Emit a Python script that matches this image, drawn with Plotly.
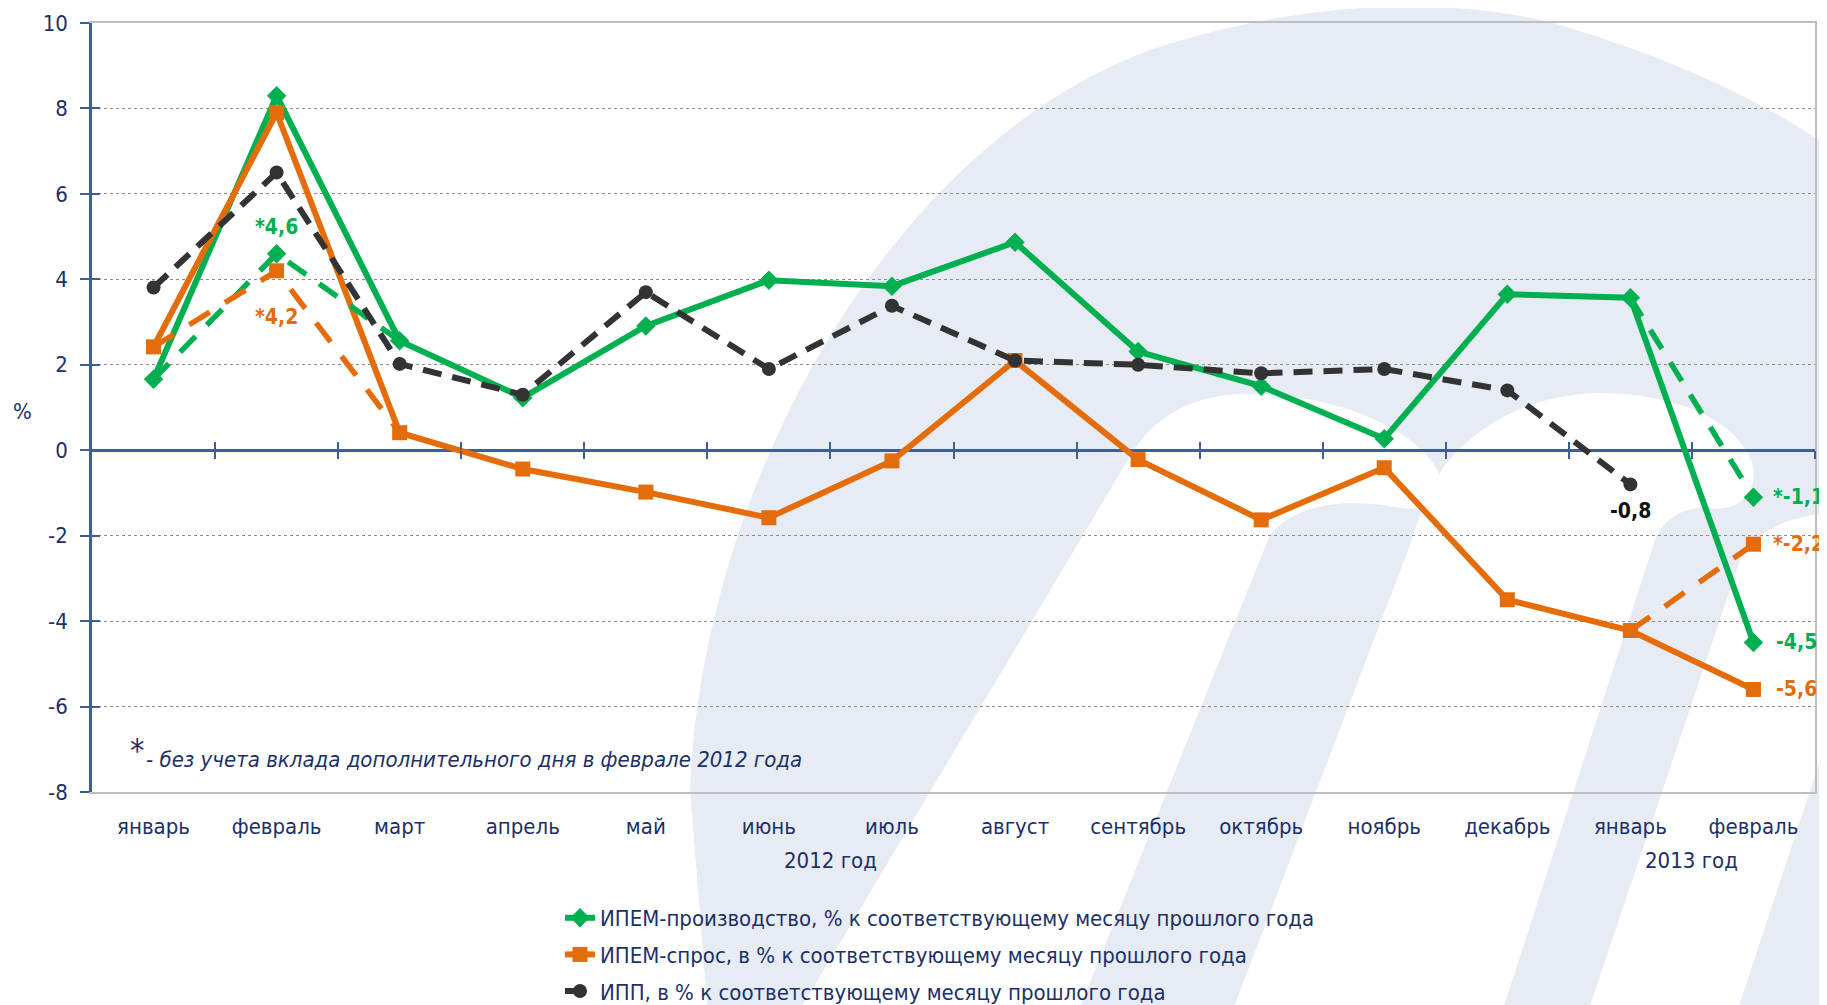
import plotly.graph_objects as go

# ---------------- data ----------------
months = ["январь", "февраль", "март", "апрель", "май", "июнь", "июль",
          "август", "сентябрь", "октябрь", "ноябрь", "декабрь", "январь", "февраль"]
years = ["2012 год"] * 12 + ["2013 год"] * 2

ipem_prod = [1.66, 8.3, 2.56, 1.23, 2.91, 3.98, 3.84, 4.87, 2.31, 1.5, 0.27, 3.65, 3.57, -4.5]
ipem_demand = [2.42, 7.9, 0.41, -0.44, -0.98, -1.58, -0.25, 2.1, -0.22, -1.63, -0.41, -3.5, -4.22, -5.6]
ipp = [3.81, 6.5, 2.02, 1.3, 3.7, 1.9, 3.38, 2.1, 2.0, 1.8, 1.9, 1.4, -0.8, None]

# values "without the extra day of February 2012" (index -> value)
prod_star = {1: 4.6, 13: -1.1}
demand_star = {1: 4.2, 13: -2.2}

names = ["ИПЕМ-производство, % к соответствующему месяцу прошлого года",
         "ИПЕМ-спрос, в % к соответствующему месяцу прошлого года",
         "ИПП, в % к соответствующему месяцу прошлого года"]
footnote = "- без учета вклада дополнительного дня в феврале 2012 года"
y_ticks = list(range(-8, 11, 2))
y_ticktext = [str(v) for v in y_ticks]

# ---------------- styles ----------------
GREEN = "#00B050"
ORANGE = "#E46C0A"
BLACK = "#333333"
NAVY = "#1C3068"
AXBLUE = "#3D5F96"
WM = "#E7ECF4"
FONT = "Liberation Sans Narrow, Arial Narrow, DejaVu Sans Condensed, Liberation Sans, sans-serif"

W, H = 1827, 1005
OFF = 8                                   # page offset of the figure (body margin)
L, R, T, B = 92, 1815, 23, 792            # plot area in page pixels


def px(x):
    return (x - L) / (R - L)


def py(y):
    return (B - y) / (B - T)


def svg_path(cmds):
    parts = []
    for letter, pts in cmds:
        s = letter
        for (x, y) in pts:
            s += " %.5f,%.5f" % (px(x), py(y))
        parts.append(s)
    return " ".join(parts) + " Z"


def fmt(v, star=False):
    return ("*" if star else "") + ("%.1f" % v).replace(".", ",")


n = len(months)
idx_all = list(range(n))

fig = go.Figure()

# watermark-like background logo
shapes = []
outer = [("M", [(708, 1015)]), ("L", [(690, 790)]),
         ("C", [(700, 500), (880, 150), (1150, 50)]),
         ("C", [(1300, 0), (1450, -5), (1560, 25)]),
         ("C", [(1680, 60), (1780, 110), (1840, 155)]),
         ("L", [(1840, 1015)])]
counter1 = [("M", [(797, 1015)]), ("L", [(1135, 448)]),
            ("C", [(1170, 400), (1215, 393), (1258, 394)]),
            ("C", [(1340, 396), (1420, 430), (1440, 475)]),
            ("C", [(1448, 500), (1425, 512), (1400, 508)]),
            ("C", [(1360, 500), (1300, 498), (1270, 535)]),
            ("L", [(1077, 1015)])]
counter2 = [("M", [(1231, 1015)]), ("L", [(1410, 545)]),
            ("C", [(1430, 480), (1450, 455), (1470, 440)]),
            ("C", [(1510, 405), (1560, 393), (1605, 393)]),
            ("C", [(1680, 395), (1735, 420), (1752, 462)]),
            ("C", [(1760, 495), (1735, 512), (1712, 508)]),
            ("C", [(1690, 505), (1665, 515), (1655, 540)]),
            ("L", [(1501, 1015)])]
counter3 = [("M", [(1587, 1015)]), ("L", [(1740, 560)]),
            ("C", [(1755, 530), (1790, 515), (1840, 512)]),
            ("L", [(1840, 700)]), ("L", [(1736, 1015)])]
for cmds, col in [(outer, WM), (counter1, "white"), (counter2, "white"), (counter3, "white")]:
    shapes.append(dict(type="path", xref="paper", yref="paper", path=svg_path(cmds),
                       fillcolor=col, line=dict(width=0), layer="below"))

# main series
fig.add_trace(go.Scatter(x=idx_all, y=ipem_prod, mode="lines+markers", name=names[0],
                         line=dict(color=GREEN, width=6),
                         marker=dict(symbol="diamond", size=15, color=GREEN),
                         legendgroup="g1", cliponaxis=False))
fig.add_trace(go.Scatter(x=idx_all, y=ipem_demand, mode="lines+markers", name=names[1],
                         line=dict(color=ORANGE, width=6),
                         marker=dict(symbol="square", size=15, color=ORANGE),
                         legendgroup="g2", cliponaxis=False))


def star_trace(base, star, color, symbol, dash):
    xs, ys, sizes = [], [], []
    for i, v in star.items():
        if xs:
            xs.append(None); ys.append(None); sizes.append(0)
        for j in (i - 1, i, i + 1):
            if 0 <= j < n:
                xs.append(j)
                ys.append(v if j == i else base[j])
                sizes.append(15 if j == i else 0)
    return go.Scatter(x=xs, y=ys, mode="lines+markers", showlegend=False,
                      line=dict(color=color, width=5.5, dash=dash),
                      marker=dict(symbol=symbol, size=sizes, color=color, opacity=1,
                                  line=dict(width=0)),
                      connectgaps=False, cliponaxis=False)


fig.add_trace(star_trace(ipem_prod, prod_star, GREEN, "diamond", "22px,16px"))
fig.add_trace(star_trace(ipem_demand, demand_star, ORANGE, "square", "24px,18px"))

fig.add_trace(go.Scatter(x=idx_all, y=ipp, mode="lines+markers", name=names[2],
                         line=dict(color=BLACK, width=6, dash="19px,11px"),
                         marker=dict(symbol="circle", size=14, color=BLACK),
                         legendgroup="g3", cliponaxis=False))

# helper empty traces so overlay axes get drawn
fig.add_trace(go.Scatter(x=[None], y=[None], xaxis="x2", yaxis="y2", showlegend=False, hoverinfo="skip"))
fig.add_trace(go.Scatter(x=[None], y=[None], xaxis="x3", yaxis="y3", showlegend=False, hoverinfo="skip"))

# value labels
ann = []
lab_font = dict(family=FONT, size=21)


def add_label(i, v, color, star, xs=0, ys=0, xanchor="center"):
    ann.append(dict(x=i, y=v, xref="x", yref="y", text="<b>%s</b>" % fmt(v, star),
                    showarrow=False, xanchor=xanchor, yanchor="middle", xshift=xs, yshift=ys,
                    font=dict(lab_font, color=color)))


add_label(1, prod_star[1], GREEN, True, ys=27)
add_label(1, demand_star[1], ORANGE, True, ys=-46)
add_label(12, ipp[12], "#111111", False, ys=-27)
add_label(13, prod_star[13], GREEN, True, xs=18, xanchor="left")
add_label(13, demand_star[13], ORANGE, True, xs=18, xanchor="left")
add_label(13, ipem_prod[13], GREEN, False, xs=21, xanchor="left")
add_label(13, ipem_demand[13], ORANGE, False, xs=21, xanchor="left")

# year group labels under the month labels
for yr in dict.fromkeys(years):
    pos = [i for i, y_ in enumerate(years) if y_ == yr]
    ann.append(dict(x=sum(pos) / len(pos), y=py(860), xref="x", yref="paper", text=yr,
                    showarrow=False, xanchor="center", yanchor="middle",
                    font=dict(family=FONT, size=22, color=NAVY)))

# footnote and axis unit
ann.append(dict(x=px(128), y=py(750), xref="paper", yref="paper", text="*", showarrow=False,
                xanchor="left", yanchor="middle", font=dict(family=FONT, size=32, color=NAVY)))
ann.append(dict(x=px(144), y=py(759), xref="paper", yref="paper", text="<i>%s</i>" % footnote,
                showarrow=False, xanchor="left", yanchor="middle",
                font=dict(family=FONT, size=22, color=NAVY)))
ann.append(dict(x=px(22), y=py(411), xref="paper", yref="paper", text="%", showarrow=False,
                xanchor="center", yanchor="middle", font=dict(family=FONT, size=22, color=NAVY)))

bounds = [i + 0.5 for i in range(n)]
zero_pos = (0 - y_ticks[0]) / (y_ticks[-1] - y_ticks[0])
xr = [-0.5, n - 0.5]
yr_ = [y_ticks[0], y_ticks[-1]]

fig.update_layout(
    width=W, height=H,
    margin=dict(l=L - OFF, r=W - (R - OFF), t=T - OFF, b=H - (B - OFF), autoexpand=False),
    paper_bgcolor="white", plot_bgcolor="rgba(0,0,0,0)",
    font=dict(family=FONT, size=22, color=NAVY),
    shapes=shapes, annotations=ann,
    showlegend=True,
    legend=dict(x=px(560), y=py(897), xanchor="left", yanchor="top",
                font=dict(family=FONT, size=22, color=NAVY), bgcolor="rgba(0,0,0,0)",
                traceorder="grouped", tracegroupgap=5),
    xaxis=dict(range=xr, tickvals=idx_all, ticktext=months, ticks="", ticklabelstandoff=14,
               showline=True, mirror=True, linecolor="#BFBFBF", linewidth=2, automargin=False,
               showgrid=False, zeroline=False, tickfont=dict(family=FONT, size=22, color=NAVY)),
    xaxis2=dict(overlaying="x", anchor="free", position=zero_pos, range=xr,
                tickvals=bounds, ticks="outside", ticklen=8, tickwidth=2, tickcolor=AXBLUE,
                showticklabels=False, showgrid=False, zeroline=False, showline=False, automargin=False),
    xaxis3=dict(overlaying="x", anchor="free", position=zero_pos, range=xr,
                tickvals=bounds, ticks="inside", ticklen=8, tickwidth=2, tickcolor=AXBLUE,
                showticklabels=False, showgrid=False, zeroline=False, showline=False, automargin=False),
    yaxis=dict(range=yr_, tickvals=y_ticks, ticktext=y_ticktext, ticks="outside", ticklen=9,
               tickwidth=2, tickcolor=AXBLUE, showline=True, linecolor=AXBLUE, linewidth=2.5,
               showgrid=True, gridcolor="#8C8C8C", griddash="dot", gridwidth=1,
               zeroline=True, zerolinecolor=AXBLUE, zerolinewidth=2.5, automargin=False,
               ticklabelstandoff=8, tickfont=dict(family=FONT, size=22, color=NAVY)),
    yaxis2=dict(overlaying="y", anchor="x", side="left", range=yr_,
                tickvals=y_ticks, ticks="inside", ticklen=8, tickwidth=2, tickcolor=AXBLUE,
                showticklabels=False, showgrid=False, zeroline=False, showline=False, automargin=False),
    yaxis3=dict(overlaying="y", anchor="x", side="right", range=yr_,
                showticklabels=False, ticks="", showgrid=False, zeroline=False, automargin=False,
                showline=True, linecolor="#BFBFBF", linewidth=2),
)

fig.write_html("out.html")
